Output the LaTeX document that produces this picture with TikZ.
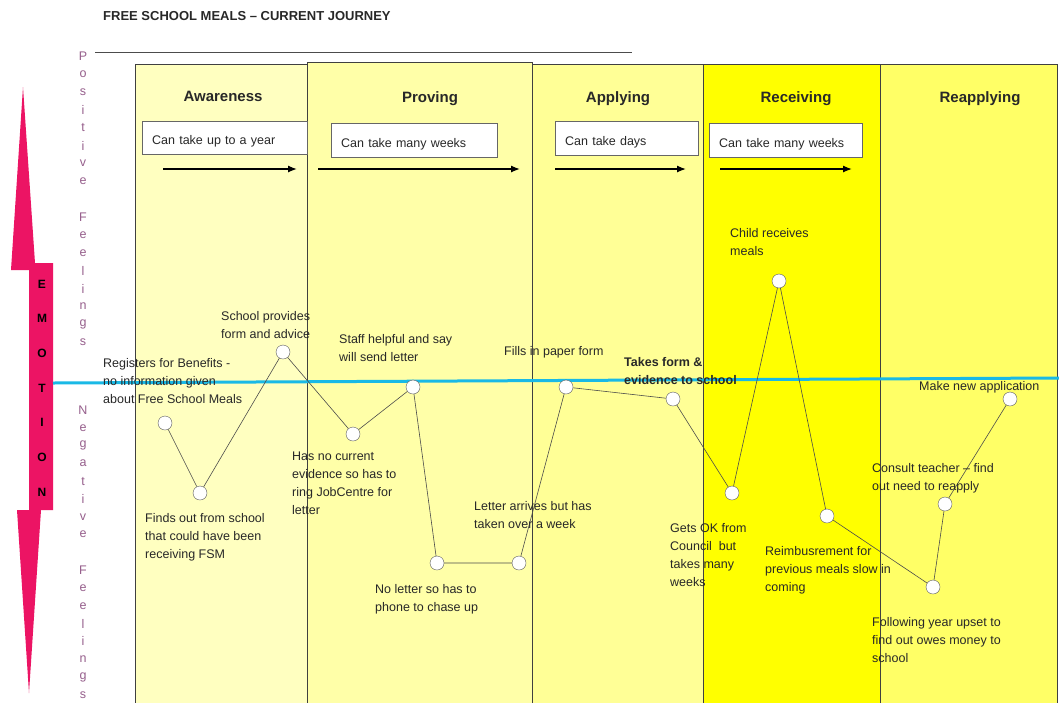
\documentclass[tikz,border=0pt]{standalone}
\usepackage{fontspec}
\setmainfont{Liberation Sans}
\usetikzlibrary{arrows.meta}

\definecolor{emopink}{RGB}{236,20,100}
\definecolor{feelcol}{RGB}{150,95,140}
\definecolor{zeroblue}{RGB}{25,185,230}
\definecolor{txtgrey}{RGB}{40,40,40}
\definecolor{awarecol}{RGB}{255,255,192}
\definecolor{provecol}{RGB}{255,255,168}
\definecolor{applycol}{RGB}{255,255,150}
\definecolor{receivecol}{RGB}{255,255,0}
\definecolor{reapplycol}{RGB}{255,255,102}

\newcommand{\lblfont}{\fontsize{12.5}{18}\selectfont}

\begin{document}
\begin{tikzpicture}[x=1pt,y=-1pt,>={Latex[length=9pt,width=7pt]},
	phase/.style={anchor=base,inner sep=0pt,text=txtgrey,font=\fontsize{15}{17}\selectfont\bfseries},
	column/.style={draw=black!75,line width=0.7pt},
	timebox/.style={draw=black!60,fill=white,anchor=north west,inner xsep=10pt,inner ysep=0pt,
		minimum height=33pt,text height=14pt,text depth=0pt,align=left,text=txtgrey,font=\lblfont},
	timearrow/.style={->,line width=1.3pt},
	dot/.style={circle,draw=black!65,fill=white,minimum size=14pt,inner sep=0pt},
	curve/.style={black!70,line width=0.6pt},
	step label/.style={anchor=north west,inner sep=0pt,align=left,text=txtgrey,font=\lblfont}]

	% page
	\useasboundingbox[fill=white] (0,0) rectangle (1059,702);

	% title and rule
	\node[anchor=west,inner sep=0pt,text=txtgrey,font=\fontsize{13}{15}\selectfont\bfseries]
		(title) at (103,16) {FREE SCHOOL MEALS – CURRENT JOURNEY};
	\draw[black!70,line width=0.8pt] (95,52) -- (632,52);

	% the emotion arrow
	\fill[emopink] (23,87) -- (35,263) -- (53,263) -- (53,510) -- (41,510) -- (29,693)
		-- (17,510) -- (29,510) -- (29,270) -- (11,270) -- cycle;
	\foreach \l [count=\i] in {E,M,O,T,I,O,N} {
		\node[font=\fontsize{12}{14}\selectfont\bfseries,inner sep=0pt] (emo\i) at (42,{284+34.7*(\i-1)}) {\l};
	}

	% positive / negative feelings
	\foreach \l [count=\i] in {P,o,s,i,t,i,v,e,,F,e,e,l,i,n,g,s} {
		\node[text=feelcol,font=\lblfont,inner sep=0pt] (pos\i) at (83,{56+17.9*(\i-1)}) {\l};
	}
	\foreach \l [count=\i] in {N,e,g,a,t,i,v,e,,F,e,e,l,i,n,g,s} {
		\node[text=feelcol,font=\lblfont,inner sep=0pt] (neg\i) at (83,{410+17.8*(\i-1)}) {\l};
	}

	% the five columns
	\filldraw[column,fill=awarecol] (135,64) rectangle (307,704);
	\filldraw[column,fill=provecol] (307,62) rectangle (532,704);
	\filldraw[column,fill=applycol] (532,64) rectangle (703,704);
	\filldraw[column,fill=receivecol] (703,64) rectangle (880,704);
	\filldraw[column,fill=reapplycol] (880,64) rectangle (1057,704);

	\node[phase] (aware) at (223,101.5) {Awareness};
	\node[phase] (prove) at (430,102) {Proving};
	\node[phase] (apply) at (618,102) {Applying};
	\node[phase] (receive) at (796,102) {Receiving};
	\node[phase] (reapply) at (980,102) {Reapplying};

	% how long each step takes
	\node[timebox,text width=145pt] (t1) at (142,121) {Can take up to a year};
	\node[timebox,text width=146pt,minimum height=34pt] (t2) at (331,123) {Can take many weeks};
	\node[timebox,text width=123pt,minimum height=34pt] (t3) at (555,121) {Can take days};
	\node[timebox,text width=133pt,minimum height=34pt] (t4) at (709,123) {Can take many weeks};

	\foreach \xa/\xb [count=\i] in {163/297,318/520,555/686,720/852} {
		\coordinate (ts\i) at (\xa,169);
		\coordinate (te\i) at (\xb,169);
		\draw[timearrow] (ts\i) -- (te\i);
	}

	% neutral line
	\coordinate (zeroL) at (53,383);
	\coordinate (zeroR) at (1059,378);
	\draw[zeroblue,line width=3pt] (zeroL) -- (zeroR);

	% the journey
	\foreach \n/\x/\y in {1/165/423,2/200/493,3/283/352,4/353/434,5/413/387,
		6/437/563,7/519/563,8/566/387,9/673/399,10/732/493,
		11/779/281,12/827/516,13/933/587,14/945/504,15/1010/399} {
		\node[dot] (p\n) at (\x,\y) {};
	}
	\draw[curve] (p1) -- (p2) -- (p3) -- (p4) -- (p5) -- (p6) -- (p7) -- (p8)
		-- (p9) -- (p10) -- (p11) -- (p12) -- (p13) -- (p14) -- (p15);

	% what happens at each point
	\node[step label] (l1) at (103,358) {Registers for Benefits -\\no information given\\about Free School Meals};
	\node[step label] (l2) at (145,513) {Finds out from school\\that could have been\\receiving FSM};
	\node[step label] (l3) at (221,311) {School provides\\form and advice};
	\node[step label] (l4) at (292,452) {Has no current\\evidence so has to\\ring JobCentre for\\letter};
	\node[step label] (l5) at (339,334) {Staff helpful and say\\will send letter};
	\node[step label] (l6) at (375,584) {No letter so has to\\phone to chase up};
	\node[step label] (l7) at (474,501) {Letter arrives but has\\taken over a week};
	\node[step label] (l8) at (504,346) {Fills in paper form};
	\node[step label,font=\lblfont\bfseries] (l9) at (624,357) {Takes form \&\\evidence to school};
	\node[step label] (l10) at (670,523) {Gets OK from\\Council\ \ but\\takes many\\weeks};
	\node[step label] (l11) at (730,228) {Child receives\\meals};
	\node[step label] (l12) at (765,546) {Reimbusrement for\\previous meals slow in\\coming};
	\node[step label] (l13) at (872,617) {Following year upset to\\find out owes money to\\school};
	\node[step label] (l14) at (872,463) {Consult teacher – find\\out need to reapply};
	\node[step label] (l15) at (919,381) {Make new application};
\end{tikzpicture}
\end{document}
